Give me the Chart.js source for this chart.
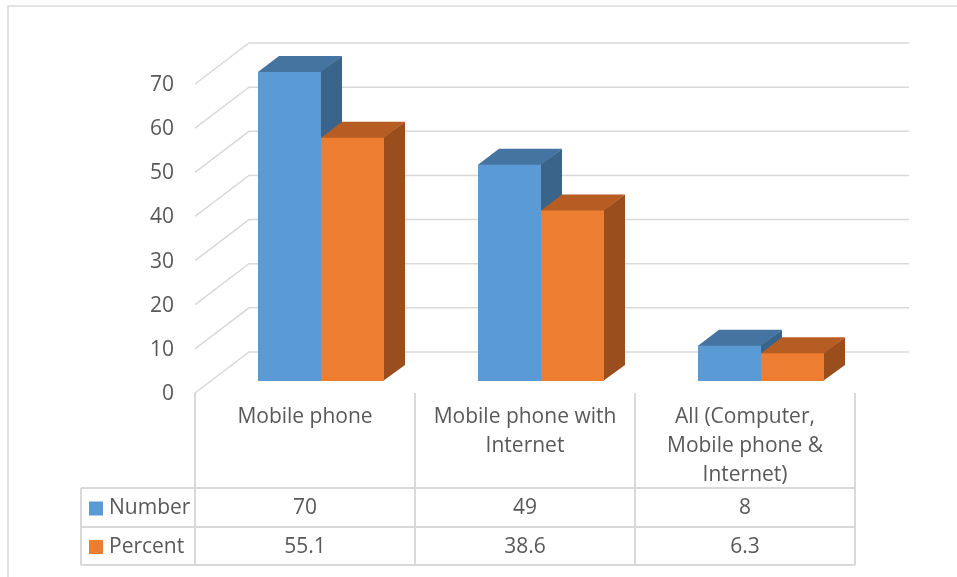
<!DOCTYPE html>
<html>
<head>
<meta charset="utf-8">
<script src="https://cdn.jsdelivr.net/npm/chart.js@4.4.1/dist/chart.umd.min.js"></script>
<style>
  html, body { margin: 0; padding: 0; background: #ffffff; }
  #chart { display: block; }
</style>
</head>
<body>
<canvas id="chart" width="957" height="577"></canvas>
<script>
// Chart data
const categories = ['Mobile phone', 'Mobile phone with Internet', 'All (Computer, Mobile phone & Internet)'];
const categoryLines = [
    ['Mobile phone'],
    ['Mobile phone with', 'Internet'],
    ['All (Computer,', 'Mobile phone &', 'Internet)']
];
const seriesNames = ['Number', 'Percent'];
const numberValues = [70, 49, 8];
const percentValues = [55.1, 38.6, 6.3];
const tableText = [['70', '49', '8'], ['55.1', '38.6', '6.3']];
const yTicks = [0, 10, 20, 30, 40, 50, 60, 70];

// Colours: front, top, side
const faceColors = [
    { front: '#5b9bd5', top: '#4574a1', side: '#3a6489' },
    { front: '#ed7d31', top: '#b55d22', side: '#9a4e1d' }
];

// 3D offsets relative to the bar plane
const FRONT_DX = -16, FRONT_DY = 12;
const BACK_DX = 38, BACK_DY = -29;
const BAR_DX = 21, BAR_DY = -16;

const FONT = '21px "Open Sans"';
const TEXT_COLOR = '#595959';
const LINE_COLOR = '#d9d9d9';

/**
 * Draws walls, tick labels and the top/side faces of each bar
 */
const threeD = {
    id: 'threeD',
    beforeDatasetsDraw(chart) {
        const ctx = chart.ctx;
        const ys = chart.scales.y;
        const area = chart.chartArea;
        ctx.save();

        // outer frame (top and left only visible)
        ctx.strokeStyle = LINE_COLOR;
        ctx.lineWidth = 1.5;
        ctx.beginPath();
        ctx.moveTo(8, 600);
        ctx.lineTo(8, 6);
        ctx.lineTo(960, 6);
        ctx.stroke();

        // gridlines on side wall and back wall
        ctx.font = FONT;
        ctx.fillStyle = TEXT_COLOR;
        ctx.textAlign = 'right';
        ctx.textBaseline = 'middle';
        yTicks.forEach(v => {
            const y = ys.getPixelForValue(v);
            ctx.beginPath();
            ctx.moveTo(area.left + FRONT_DX, y + FRONT_DY);
            ctx.lineTo(area.left + BACK_DX, y + BACK_DY);
            ctx.lineTo(area.right + BACK_DX, y + BACK_DY);
            ctx.stroke();
            ctx.fillText(String(v), area.left + FRONT_DX - 21, y + FRONT_DY + 1);
        });

        // side and top faces, drawn per category in dataset order
        for (let i = 0; i < categories.length; i++) {
            chart.data.datasets.forEach((ds, d) => {
                const bar = chart.getDatasetMeta(d).data[i];
                const l = bar.x - bar.width / 2;
                const r = bar.x + bar.width / 2;
                const top = bar.y;
                const base = bar.base;
                ctx.fillStyle = faceColors[d].side;
                ctx.beginPath();
                ctx.moveTo(r - 1, top);
                ctx.lineTo(r + BAR_DX, top + BAR_DY);
                ctx.lineTo(r + BAR_DX, base + BAR_DY);
                ctx.lineTo(r - 1, base);
                ctx.closePath();
                ctx.fill();
                ctx.fillStyle = faceColors[d].top;
                ctx.beginPath();
                ctx.moveTo(l, top + 1);
                ctx.lineTo(l, top);
                ctx.lineTo(l + BAR_DX, top + BAR_DY);
                ctx.lineTo(r + BAR_DX, top + BAR_DY);
                ctx.lineTo(r, top);
                ctx.lineTo(r, top + 1);
                ctx.closePath();
                ctx.fill();
            });
        }
        ctx.restore();
    },
    afterDraw(chart) {
        // data table under the plot
        const ctx = chart.ctx;
        const xs = chart.scales.x;
        const ys = chart.scales.y;
        const area = chart.chartArea;
        const half = (xs.getPixelForValue(1) - xs.getPixelForValue(0)) / 2;
        const tableTop = ys.getPixelForValue(0) + FRONT_DY;
        const rowTops = [488, 527];
        const tableBottom = 565;
        const legendLeft = 81;
        const rightX = area.right + FRONT_DX;

        ctx.save();
        ctx.strokeStyle = LINE_COLOR;
        ctx.lineWidth = 2;
        ctx.beginPath();
        // vertical lines
        for (let i = 0; i <= categories.length; i++) {
            const x = xs.getPixelForValue(0) + FRONT_DX - half + i * half * 2;
            ctx.moveTo(x, tableTop);
            ctx.lineTo(x, tableBottom);
        }
        ctx.moveTo(legendLeft, rowTops[0]);
        ctx.lineTo(legendLeft, tableBottom);
        // horizontal lines
        [rowTops[0], rowTops[1], tableBottom].forEach(y => {
            ctx.moveTo(legendLeft, y);
            ctx.lineTo(rightX, y);
        });
        ctx.stroke();

        ctx.font = FONT;
        ctx.fillStyle = TEXT_COLOR;
        ctx.textBaseline = 'middle';
        ctx.textAlign = 'center';

        // category labels
        categoryLines.forEach((lines, i) => {
            const cx = xs.getPixelForValue(i) + FRONT_DX;
            lines.forEach((line, j) => {
                ctx.fillText(line, cx, 417 + j * 29);
            });
        });

        // values
        tableText.forEach((row, r) => {
            const cy = (r === 0 ? (rowTops[0] + rowTops[1]) / 2 : (rowTops[1] + tableBottom) / 2) + 1;
            row.forEach((txt, i) => {
                ctx.fillText(txt, xs.getPixelForValue(i) + FRONT_DX, cy);
            });
            // legend key
            ctx.fillStyle = faceColors[r].front;
            ctx.fillRect(89, cy - 7, 14, 14);
            ctx.fillStyle = TEXT_COLOR;
            ctx.textAlign = 'left';
            ctx.fillText(seriesNames[r], 109, cy);
            ctx.textAlign = 'center';
        });
        ctx.restore();
    }
};

document.addEventListener('DOMContentLoaded', function() {
    const ctx = document.getElementById('chart').getContext('2d');
    new Chart(ctx, {
        type: 'bar',
        data: {
            labels: categories,
            datasets: [
                {
                    label: seriesNames[0],
                    data: numberValues,
                    backgroundColor: faceColors[0].front,
                    borderWidth: 0
                },
                {
                    label: seriesNames[1],
                    data: percentValues,
                    backgroundColor: faceColors[1].front,
                    borderWidth: 0
                }
            ]
        },
        options: {
            responsive: false,
            animation: false,
            categoryPercentage: 126 / 220,
            barPercentage: 1,
            layout: {
                padding: { left: 211, top: 72, right: 86, bottom: 196 }
            },
            scales: {
                x: { display: false },
                y: { display: false, min: 0, max: 70 }
            },
            plugins: {
                legend: { display: false },
                tooltip: { enabled: false }
            }
        },
        plugins: [threeD]
    });
});
</script>
</body>
</html>
